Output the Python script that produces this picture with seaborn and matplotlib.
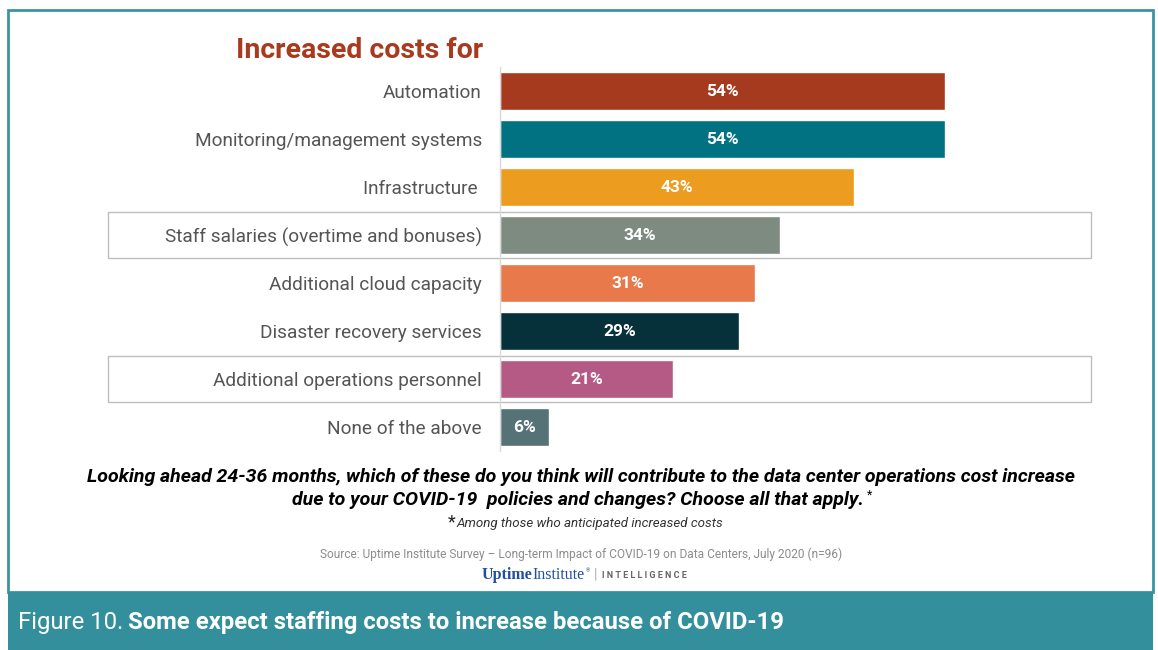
import matplotlib
matplotlib.use("Agg")
import matplotlib.pyplot as plt
import matplotlib.transforms as mtransforms
from matplotlib.patches import Rectangle
import seaborn as sns

categories = [
    "Automation",
    "Monitoring/management systems",
    "Infrastructure ",
    "Staff salaries (overtime and bonuses)",
    "Additional cloud capacity",
    "Disaster recovery services",
    "Additional operations personnel",
    "None of the above",
]
values = [54, 54, 43, 34, 31, 29, 21, 6]
bar_colors = ["#A63A1E", "#007282", "#EC9C1E", "#7D8B81",
              "#E8794A", "#06313A", "#B55A85", "#557277"]
highlighted = [3, 6]

title = "Increased costs for"
question = ["Looking ahead 24-36 months, which of these do you think will contribute to the data center operations cost increase",
            "due to your COVID-19  policies and changes? Choose all that apply."]
footnote = "Among those who anticipated increased costs"
source = "Source: Uptime Institute Survey \u2013 Long-term Impact of COVID-19 on Data Centers, July 2020 (n=96)"
fig_label = "Figure 10."
fig_title = "Some expect staffing costs to increase because of COVID-19"

sns.set_theme(style="white")
plt.rcParams['font.family'] = ['Roboto', 'DejaVu Sans']

W, H = 1158, 650
fig = plt.figure(figsize=(W / 100, H / 100), dpi=100)
fig.patch.set_facecolor("white")


def fx(px):
    return px / W


def fy(py):
    return 1 - py / H


def after(t, gap=0):
    fig.canvas.draw()
    return (t.get_window_extent().x1 + gap) / W


# outer frame and bottom banner
fig.patches.append(Rectangle((fx(8), fy(592)), fx(1153) - fx(8), fy(10) - fy(592),
                             transform=fig.transFigure, fill=False,
                             edgecolor="#3A95A2", linewidth=2, zorder=0))
fig.patches.append(Rectangle((fx(8), 0), fx(1153) - fx(8), fy(592),
                             transform=fig.transFigure, facecolor="#338F9B",
                             edgecolor="none", zorder=0))

ax = fig.add_axes([fx(500), fy(451), fx(1091) - fx(500), fy(67) - fy(451)])
ax.set_facecolor("none")

sns.barplot(x=values, y=categories, hue=categories, palette=bar_colors,
            legend=False, width=0.78, saturation=1, ax=ax)

ax.set_xlim(0, (1091 - 500) / 8.24)
ax.set_ylim(len(categories) - 0.5, -0.5)
ax.set_xlabel("")
ax.set_ylabel("")
ax.set_xticks([])
for side in ["top", "right", "bottom"]:
    ax.spines[side].set_visible(False)
ax.spines["left"].set_color("#D9D9D9")
ax.spines["left"].set_linewidth(1)
ax.tick_params(axis="y", length=0, pad=13, labelsize=13.7, labelcolor="#555555")

for container in ax.containers:
    ax.bar_label(container, labels=[f"{v:.0f}%" for v in container.datavalues],
                 label_type="center", color="white", fontsize=12.5,
                 fontweight="bold")

# highlight boxes around selected rows
blend = mtransforms.blended_transform_factory(fig.transFigure, ax.transData)
for i in highlighted:
    ax.add_patch(Rectangle((fx(108), i - 0.48), fx(1091) - fx(108), 0.96,
                           transform=blend, fill=False, edgecolor="#BDBDBD",
                           linewidth=1, clip_on=False, zorder=0))

fig.text(fx(483), fy(51), title, ha="right", va="center", fontsize=20.5,
         fontweight="bold", color="#A83A1E")

fig.text(fx(581), fy(477), question[0], ha="center", va="center", fontsize=14,
         fontweight="bold", fontstyle="italic", color="black")
q2 = fig.text(fx(578), fy(500), question[1], ha="center", va="center", fontsize=14,
              fontweight="bold", fontstyle="italic", color="black")
fig.text(after(q2, 3), fy(495), "*", ha="left", va="center", fontsize=9,
         color="black")

fig.text(fx(456), fy(522), "*", ha="right", va="center", fontsize=13, color="#222222")
fig.text(fx(457), fy(524), footnote, ha="left", va="center", fontsize=9.6,
         fontstyle="italic", color="#333333")
fig.text(fx(581), fy(554), source, ha="center", va="center", fontsize=8.6,
         color="#8C8C8C")

# logo line
serif = ["Liberation Serif", "DejaVu Serif"]
t1 = fig.text(fx(482), fy(575), "Uptime", ha="left", va="center", fontsize=11.5,
              family=serif, color="#1F4FA0", fontweight="bold")
t2 = fig.text(after(t1), fy(575), "Institute", ha="left", va="center", fontsize=11.5,
              family=serif, color="#1F4FA0")
t3 = fig.text(after(t2, 1), fy(571), "\u00ae", ha="left", va="center", fontsize=4,
              color="#1F4FA0")
t4 = fig.text(after(t3, 4), fy(575), "|", ha="left", va="center", fontsize=10,
              color="#AAAAAA")
fig.text(after(t4, 5), fy(575), "I N T E L L I G E N C E", ha="left", va="center",
         fontsize=6.5, color="#666666", fontweight="bold")

lab = fig.text(fx(18), fy(622), fig_label, ha="left", va="center", fontsize=17.2,
               color="white")
fig.text(after(lab, 5), fy(622), fig_title, ha="left", va="center",
         fontsize=17.2, fontweight="bold", color="white")

fig.savefig("out.png", dpi=100)
